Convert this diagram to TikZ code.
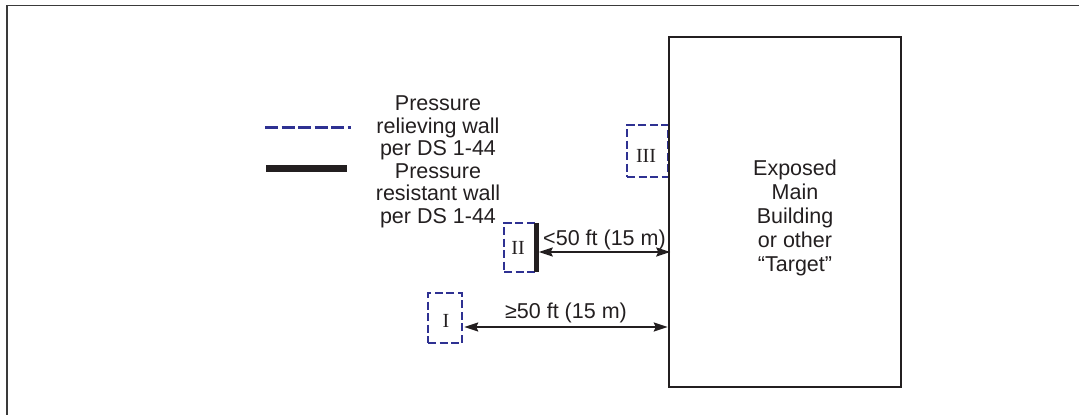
\documentclass[tikz,border=0pt]{standalone}
\usepackage{fontspec}
\setmainfont{Liberation Sans}
\newfontfamily\romanfont{Liberation Serif}
\usetikzlibrary{arrows.meta}
\definecolor{wallblue}{HTML}{2E3192}
\definecolor{inkblack}{HTML}{231F20}
\definecolor{framegray}{HTML}{3A3A3A}
\tikzset{
  framestyle/.style={draw=framegray, line width=1.6pt},
  relbox/.style={rectangle, inner sep=0pt, draw=wallblue, line width=2.4pt,
    dash pattern=on 8pt off 3.5pt},
  numeral/.style={inner sep=0pt, font=\romanfont\fontsize{20}{20}\selectfont, text=inkblack},
  bldgbox/.style={rectangle, inner sep=0pt, draw=inkblack, line width=2.5pt},
  labeltext/.style={inner sep=0pt, text=inkblack, font=\fontsize{21.5}{23}\selectfont, align=center},
  dimarrow/.style={draw=inkblack, line width=2pt, {Stealth[length=14pt,width=9pt,inset=2pt]}-{Stealth[length=14pt,width=9pt,inset=2pt]}},
  resistwall/.style={draw=inkblack, line width=5pt},
}
\begin{document}
\begin{tikzpicture}[x=1pt, y=-1pt]
\useasboundingbox (0,0) rectangle (1079,415);
% frame
\draw[framestyle] (7,415) -- (7,5.5) -- (1079,5.5);

% legend
\draw[draw=wallblue, line width=2.6pt, dash pattern=on 13pt off 3.5pt] (265,127.7) -- (351,127.7);
\draw[draw=inkblack, line width=7pt] (266,168.5) -- (347,168.5);
\node[labeltext, anchor=north, font=\fontsize{21.5}{22.6}\selectfont] (legtext) at (438,95.5)
  {Pressure\\relieving wall\\per DS 1-44\\Pressure\\resistant wall\\per DS 1-44};

% box III (behind building)
\node[relbox, minimum width=41pt, minimum height=52pt] (b3) at (647.5,151) {};
\node[numeral] (t3) at (646,156) {III};

% building
\node[bldgbox, minimum width=232pt, minimum height=350pt] (bldg) at (785,212) {};
\node[labeltext, anchor=north, font=\fontsize{21.5}{24.2}\selectfont] (bldgtext) at (795,159.3)
  {Exposed\\Main\\Building\\or other\\“Target”};

% box II
\node[relbox, minimum width=31pt, minimum height=49pt] (b2) at (519.5,247.5) {};
\node[numeral] (t2) at (518,248) {II};
\draw[resistwall] ([yshift=-1pt]b2.north east) -- ([yshift=1pt]b2.south east);

% box I
\node[relbox, minimum width=34pt, minimum height=50pt] (b1) at (445,318) {};
\node[numeral] (t1) at (446,321) {I};

% dimension arrows
\draw[dimarrow] ([xshift=2.5pt, yshift=-4.5pt]b2.east) -- ([xshift=2.5pt, yshift=-4.5pt]b2.east -| bldg.west)
  node[labeltext, midway, anchor=base, yshift=7pt] (lab2) {<50 ft (15 m)};
\draw[dimarrow] ([xshift=1pt, yshift=-9pt]b1.east) -- ([yshift=-9pt]b1.east -| bldg.west)
  node[labeltext, pos=0.5, anchor=base, yshift=9pt] (lab1) {≥50 ft (15 m)};
\end{tikzpicture}
\end{document}
